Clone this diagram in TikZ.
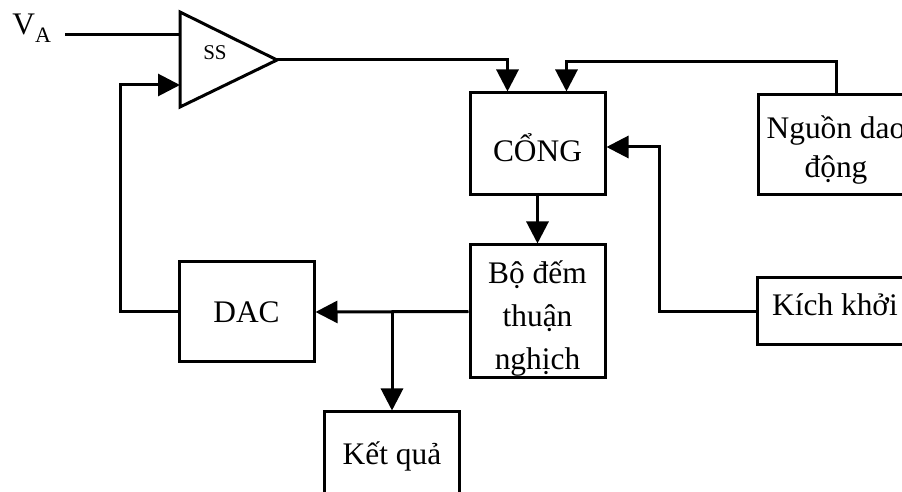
\documentclass[tikz,border=0pt]{standalone}
\usepackage{fontspec}
\setmainfont{Liberation Serif}
\usetikzlibrary{arrows.meta}
\newcommand{\linew}{1.5pt}
\newcommand{\boxfont}{\fontsize{15.7}{20}\selectfont}

\begin{document}
\begin{tikzpicture}[x=0.5pt,y=-0.5pt]
            %\draw[help lines] (0,0) grid (902,492);
            \tikzset{block/.style={draw, line width=\linew, inner sep=0pt, align=center, font=\boxfont, minimum width=67.5pt},
                     wire/.style={line width=\linew},
                     conn/.style={line width=\linew, -{Triangle[length=11pt,width=11pt]}}}
            \useasboundingbox (0,0) rectangle (902,492);
            % comparator
            \coordinate (sstop) at (180,12);
            \coordinate (ssbot) at (180,107);
            \coordinate (ssout) at (277,60);
            \coordinate (ssin1) at (180,35);
            \coordinate (ssin2) at (180,85);
            \draw[wire, line join=miter] (sstop) -- (ssout) -- (ssbot) -- cycle;
            \node[font=\fontsize{10.5}{12}\selectfont] (ss) at (215,53) {SS};
            \node[font=\boxfont, anchor=base west, inner sep=0pt] (va) at (12,35) {V\raisebox{-4pt}{\fontsize{11}{11}\selectfont A}};
            \coordinate (vain) at (65,35);
            % blocks
            \node[block, minimum height=51pt, text height=18pt, text depth=0pt] (cong) at (537.5,144) {CỔNG};
            \node[block, minimum height=66.5pt, font=\fontsize{15.7}{21.75}\selectfont, text height=62.5pt, text depth=4pt] (dem) at (537.5,311.5) {Bộ đếm\\thuận\\nghịch};
            \node[block, minimum height=50pt] (dac) at (246.5,312) {DAC};
            \node[block, minimum height=50pt, text height=10pt, text depth=7pt] (ketqua) at (392,462) {Kết quả};
            \node[block, minimum width=78pt, minimum height=50pt, text height=37pt, text depth=4pt] (nguon) at (836,145) {Nguồn dao\\động};
            \node[block, minimum width=78pt, minimum height=33.5pt, text height=12pt, text depth=7.5pt] (kich) at (835,311.5) {Kích khởi};
            \coordinate (br) at (392,311.5);
            % connections
            \draw[wire] (vain) -- (ssin1);
            \draw[conn] (dac.west) -- ++(-57,0) |- (ssin2);
            \draw[conn] (ssout) -| ([xshift=-15pt]cong.north);
            \draw[conn] (nguon.north) -- ++(0,-32) -| ([xshift=14.5pt]cong.north);
            \draw[conn] (kich.west) -- ++(-96,0) |- ([yshift=-1.5pt]cong.east);
            \draw[conn] (cong.south) -- (dem.north);
            \draw[conn] (dem.west) -- (dac.east);
            \draw[conn] (br) -- (ketqua.north);
\end{tikzpicture}
\end{document}
